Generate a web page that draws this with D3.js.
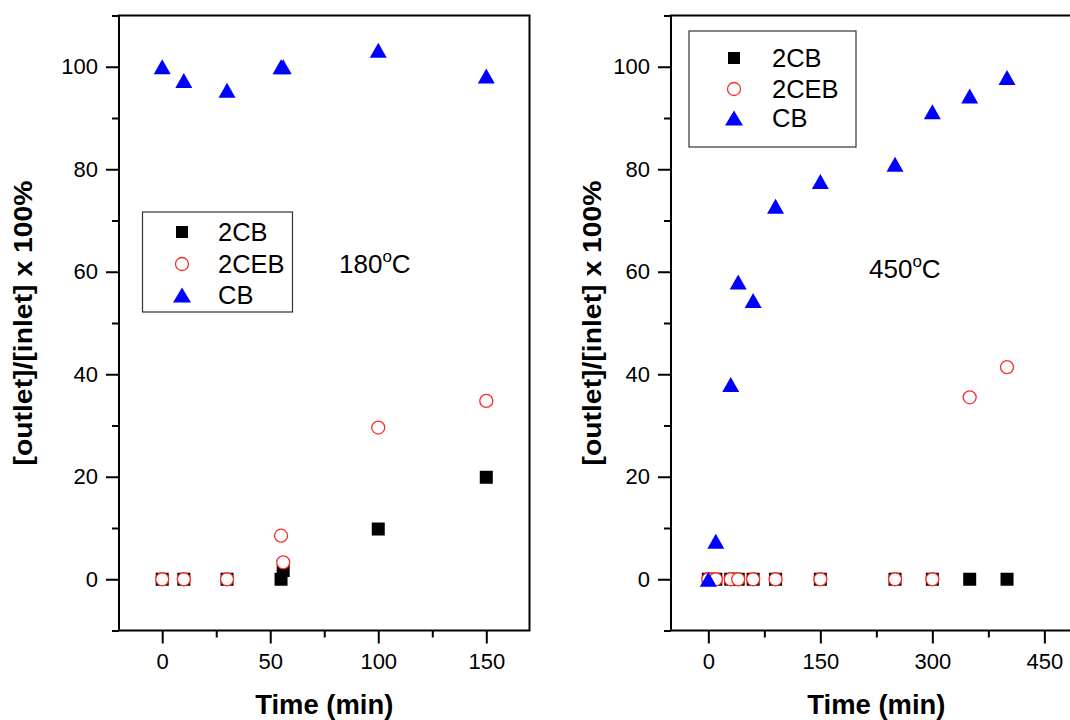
<!DOCTYPE html>
<html>
<head>
<meta charset="utf-8">
<script src="https://cdn.jsdelivr.net/npm/d3@7"></script>
<style>
  body { margin: 0; background: #fff; }
  svg { display: block; font-family: "Liberation Sans", Arial, sans-serif; }
</style>
</head>
<body>
<svg id="chart" width="1070" height="720"></svg>
<script>
// ---------- DATA ----------
const seriesNames = ["2CB", "2CEB", "CB"];

// 180 °C panel
const leftTime = [0, 10, 30, 55, 56, 100, 150];
const left2CB  = [0, 0, 0, 0, 1.7, 9.8, 19.9];
const left2CEB = [0, 0, 0, 8.5, 3.3, 29.6, 34.8];
const leftCB   = [100, 97.3, 95.4, 100, 100, 103.2, 98.2];

// 450 °C panel
const rightTime = [0, 10, 30, 40, 60, 90, 150, 250, 300, 350, 400];
const right2CB  = [0, 0, 0, 0, 0, 0, 0, 0, 0, 0, 0];
const right2CEB = [0, 0, 0, 0, 0, 0, 0, 0, 0, 35.5, 41.4];
const rightCB   = [0, 7.4, 38, 58, 54.4, 72.8, 77.6, 81, 91.2, 94.3, 97.9];

const yMajor = [0, 20, 40, 60, 80, 100];
const yMinor = [-10, 10, 30, 50, 70, 90, 110];
const xMajorLeft = [0, 50, 100, 150];
const xMinorLeft = [25, 75, 125];
const xMajorRight = [0, 150, 300, 450];
const xMinorRight = [75, 225, 375];

const yLabel = "[outlet]/[inlet] x 100%";
const xLabel = "Time (min)";

// ---------- DRAW ----------
const svg = d3.select("#chart");
const y = d3.scaleLinear().domain([-10, 110]).range([630.5, 15.5]);
const xL = d3.scaleLinear().domain([-20, 170]).range([119, 529.5]);
const xR = d3.scaleLinear().domain([-50, 500]).range([671, 1081.7]);

const colors = { "2CB": "#000000", "2CEB": "#ff2a2a", "CB": "#0000ff" };

function triPath(w, h) {
  return `M0,${-h/2}L${w/2},${h/2}L${-w/2},${h/2}Z`;
}

function drawPanel(x, xMajor, xMinor, data, yTitleX) {
  const g = svg.append("g");
  const [x0, x1] = x.range();
  const [yb, yt] = y.range();

  const ayMin = d3.axisLeft(y).tickValues(yMinor).tickSize(7).tickFormat("");
  const ayMaj = d3.axisLeft(y).tickValues(yMajor).tickSize(13).tickPadding(8);
  const axMin = d3.axisBottom(x).tickValues(xMinor).tickSize(7).tickFormat("");
  const axMaj = d3.axisBottom(x).tickValues(xMajor).tickSize(13).tickPadding(10);

  [ayMin, ayMaj].forEach(a => {
    g.append("g").attr("transform", `translate(${x0},0)`).call(a);
  });
  [axMin, axMaj].forEach(a => {
    g.append("g").attr("transform", `translate(0,${yb})`).call(a);
  });
  g.selectAll(".domain").remove();
  g.selectAll(".tick line").attr("stroke", "#000").attr("stroke-width", 2);
  g.selectAll(".tick text").attr("font-size", 22).attr("fill", "#000")
    .attr("font-family", "'Liberation Sans', Arial, sans-serif");

  // frame
  g.append("rect").attr("x", x0).attr("y", yt).attr("width", x1 - x0).attr("height", yb - yt)
    .attr("fill", "none").attr("stroke", "#000").attr("stroke-width", 2);

  // points: squares, circles, triangles
  const pts = g.append("g");
  pts.selectAll("rect.s").data(data.t2CB.map((t, i) => [t, data.v2CB[i]])).join("rect")
    .attr("x", d => x(d[0]) - 6.5).attr("y", d => y(d[1]) - 6.5)
    .attr("width", 13).attr("height", 13).attr("fill", colors["2CB"]);
  pts.selectAll("circle").data(data.t2CEB.map((t, i) => [t, data.v2CEB[i]])).join("circle")
    .attr("cx", d => x(d[0])).attr("cy", d => y(d[1])).attr("r", 6.5)
    .attr("fill", "#fff").attr("stroke", colors["2CEB"]).attr("stroke-width", 1.3);
  pts.selectAll("path.tri").data(data.tCB.map((t, i) => [t, data.vCB[i]])).join("path")
    .attr("class", "tri")
    .attr("transform", d => `translate(${x(d[0])},${y(d[1])})`)
    .attr("d", triPath(17, 15)).attr("fill", colors["CB"]);

  // axis titles
  g.append("text").attr("x", (x0 + x1) / 2).attr("y", 714).attr("text-anchor", "middle")
    .attr("font-size", 27).attr("font-weight", "bold")
    .attr("textLength", 138).attr("lengthAdjust", "spacingAndGlyphs").text(xLabel);
  g.append("text").attr("transform", `translate(${yTitleX},${(yb + yt) / 2}) rotate(-90)`)
    .attr("text-anchor", "middle").attr("dominant-baseline", "central")
    .attr("font-size", 25).attr("font-weight", "bold")
    .attr("textLength", 285).attr("lengthAdjust", "spacingAndGlyphs")
    .text(yLabel);
  return g;
}

function drawLegend(bx, by, bw, bh, sx, tx, rows) {
  const g = svg.append("g");
  g.append("rect").attr("x", bx).attr("y", by).attr("width", bw).attr("height", bh)
    .attr("fill", "#fff").attr("stroke", "#333").attr("stroke-width", 1.2);
  seriesNames.forEach((name, i) => {
    const cy = rows[i];
    if (name === "2CB") {
      g.append("rect").attr("x", sx - 6).attr("y", cy - 6).attr("width", 12).attr("height", 12).attr("fill", colors[name]);
    } else if (name === "2CEB") {
      g.append("circle").attr("cx", sx).attr("cy", cy).attr("r", 6.5).attr("fill", "#fff")
        .attr("stroke", colors[name]).attr("stroke-width", 1.3);
    } else {
      g.append("path").attr("transform", `translate(${sx},${cy})`).attr("d", triPath(18, 15)).attr("fill", colors[name]);
    }
    g.append("text").attr("x", tx).attr("y", cy).attr("dominant-baseline", "central")
      .attr("font-size", 25.5).text(name);
  });
}

function drawTemp(x, yb, val) {
  const t = svg.append("text").attr("x", x).attr("y", yb).attr("font-size", 26);
  t.append("tspan").text(val);
  t.append("tspan").attr("font-size", 17).attr("dy", -11).text("o");
  t.append("tspan").attr("dy", 11).text("C");
}

drawPanel(xL, xMajorLeft, xMinorLeft,
  { t2CB: leftTime, v2CB: left2CB, t2CEB: leftTime, v2CEB: left2CEB, tCB: leftTime, vCB: leftCB }, 23);
drawPanel(xR, xMajorRight, xMinorRight,
  { t2CB: rightTime, v2CB: right2CB, t2CEB: rightTime, v2CEB: right2CEB, tCB: rightTime, vCB: rightCB }, 592);

drawLegend(142.5, 212, 150, 100, 182, 218, [232, 264, 295]);
drawLegend(689, 31, 167, 116, 734, 772, [58, 89, 118]);

drawTemp(339, 273, "180");
drawTemp(869, 278, "450");
</script>
</body>
</html>
